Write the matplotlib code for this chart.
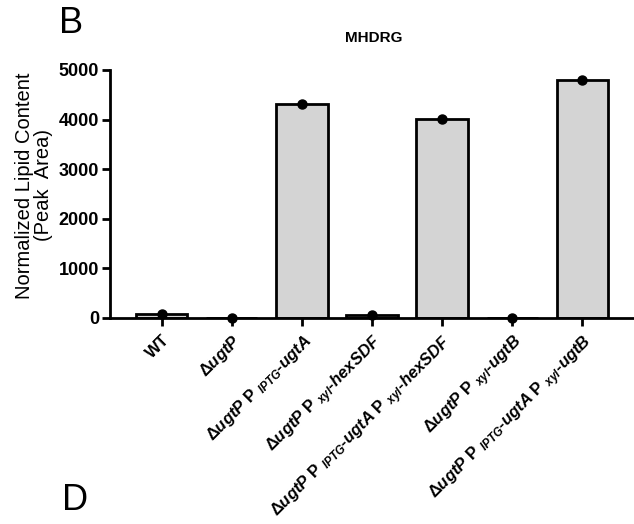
import matplotlib
matplotlib.use("Agg")
import matplotlib.pyplot as plt
import numpy as np

plt.rcParams['font.family'] = ['Liberation Sans', 'DejaVu Sans']
plt.rcParams['mathtext.fontset'] = 'custom'
plt.rcParams['mathtext.rm'] = 'Liberation Sans:bold'
plt.rcParams['mathtext.it'] = 'Liberation Sans:bold:italic'
plt.rcParams['mathtext.bf'] = 'Liberation Sans:bold'

categories = [
    "WT",
    r"Δ$\mathit{ugtP}$",
    r"Δ$\mathit{ugtP}$ P $_{\mathit{IPTG}}$-$\mathit{ugtA}$",
    r"Δ$\mathit{ugtP}$ P $_{\mathit{xyl}}$-$\mathit{hexSDF}$",
    r"Δ$\mathit{ugtP}$ P $_{\mathit{IPTG}}$-$\mathit{ugtA}$ P $_{\mathit{xyl}}$-$\mathit{hexSDF}$",
    r"Δ$\mathit{ugtP}$ P $_{\mathit{xyl}}$-$\mathit{ugtB}$",
    r"Δ$\mathit{ugtP}$ P $_{\mathit{IPTG}}$-$\mathit{ugtA}$ P $_{\mathit{xyl}}$-$\mathit{ugtB}$",
]
values = [90, 0, 4320, 60, 4020, 0, 4805]
yticks = [0, 1000, 2000, 3000, 4000, 5000]

fig = plt.figure(figsize=(6.34, 5.24), dpi=100)
ax = fig.add_axes([110/634, 1-318/524, (634-110)/634, (318-70)/524])

x = np.arange(len(categories))
ax.bar(x, values, width=0.73, color='#d4d4d4', edgecolor='black', linewidth=2, zorder=2)
ax.plot(x, values, 'o', color='black', markersize=6.5, zorder=3, clip_on=False)

ax.set_xlim(-0.74, 6.74)
ax.set_ylim(0, 5000)
ax.set_yticks(yticks)
ax.set_yticklabels([str(v) for v in yticks], fontsize=13, fontweight='bold')
ax.set_xticks(x)
ax.set_xticklabels(categories, rotation=45, ha='right', rotation_mode='anchor',
                   fontsize=12, fontweight='bold')

for s in ['top', 'right']:
    ax.spines[s].set_visible(False)
for s in ['left', 'bottom']:
    ax.spines[s].set_linewidth(2)
ax.tick_params(axis='both', direction='out', length=6, width=2)
ax.tick_params(axis='x', pad=4)
ax.tick_params(axis='y', pad=2)

ax.set_ylabel("Normalized Lipid Content\n(Peak  Area)", fontsize=14.5,
              linespacing=1.0)
ax.yaxis.set_label_coords(-0.108, 0.535)

fig.text((342+405)/2/634, 1-42/524, "MHDRG", fontsize=11, fontweight='bold',
         ha='center', va='baseline')
fig.text(59/634, 1-33/524, "B", fontsize=26, va='baseline', ha='left')
fig.text(62/634, 1-510/524, "D", fontsize=26, va='baseline', ha='left')

fig.savefig("out.png", dpi=100)
